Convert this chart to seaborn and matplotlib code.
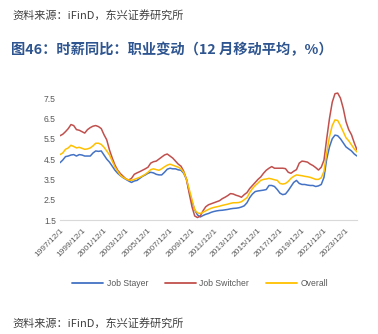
import numpy as np
import pandas as pd
import matplotlib
matplotlib.use("Agg")
import matplotlib.pyplot as plt
import seaborn as sns
from matplotlib.lines import Line2D

# quarterly readings, 1997/12 .. 2024/12
dates = pd.date_range("1997-12-01", "2024-12-01", freq="3MS")

job_stayer = [
    4.32, 4.45, 4.62, 4.65, 4.70, 4.72, 4.65, 4.72, 4.70, 4.65, 4.65, 4.65,
    4.80, 4.90, 4.88, 4.90, 4.70, 4.50, 4.35, 4.15, 3.95, 3.80, 3.68, 3.58,
    3.50, 3.42, 3.35, 3.42, 3.45, 3.55, 3.65, 3.72, 3.80, 3.85, 3.82, 3.75,
    3.72, 3.72, 3.85, 4.00, 4.05, 4.02, 4.02, 3.97, 3.95, 3.80, 3.50, 2.90,
    2.40, 2.00, 1.75, 1.65, 1.72, 1.78, 1.82, 1.88, 1.92, 1.95, 1.97, 1.98,
    2.00, 2.02, 2.05, 2.07, 2.08, 2.10, 2.14, 2.20, 2.35, 2.60, 2.78, 2.90,
    2.93, 2.95, 2.97, 3.00, 3.20, 3.20, 3.15, 3.00, 2.82, 2.75, 2.78, 2.95,
    3.15, 3.35, 3.45, 3.30, 3.25, 3.25, 3.22, 3.20, 3.20, 3.15, 3.18, 3.25,
    3.60, 4.50, 5.10, 5.50, 5.68, 5.65, 5.50, 5.30, 5.10, 5.00, 4.90, 4.75,
    4.65,
]

job_switcher = [
    5.65, 5.72, 5.85, 6.00, 6.20, 6.15, 5.95, 5.92, 5.85, 5.78, 5.95, 6.05,
    6.12, 6.15, 6.10, 6.00, 5.70, 5.45, 4.95, 4.55, 4.20, 3.95, 3.78, 3.65,
    3.52, 3.47, 3.55, 3.75, 3.82, 3.88, 3.95, 4.02, 4.10, 4.30, 4.37, 4.40,
    4.50, 4.60, 4.70, 4.75, 4.65, 4.55, 4.40, 4.25, 4.15, 3.90, 3.50, 2.80,
    2.15, 1.70, 1.62, 1.70, 1.95, 2.15, 2.25, 2.30, 2.35, 2.40, 2.45, 2.55,
    2.62, 2.70, 2.80, 2.78, 2.72, 2.68, 2.62, 2.75, 2.85, 3.05, 3.20, 3.35,
    3.50, 3.62, 3.80, 3.95, 4.05, 4.13, 4.05, 4.05, 4.05, 4.05, 4.03, 3.85,
    3.80, 3.90, 3.98, 4.30, 4.40, 4.38, 4.35, 4.25, 4.18, 4.08, 3.96, 4.10,
    4.45, 5.50, 6.50, 7.30, 7.72, 7.75, 7.50, 7.00, 6.35, 5.95, 5.70, 5.30,
    4.95,
]

overall = [
    4.72, 4.80, 4.98, 5.05, 5.18, 5.12, 5.05, 5.08, 5.03, 4.98, 5.00, 5.05,
    5.15, 5.28, 5.28, 5.22, 5.08, 4.90, 4.70, 4.40, 4.10, 3.90, 3.70, 3.60,
    3.52, 3.47, 3.45, 3.50, 3.55, 3.60, 3.67, 3.75, 3.85, 3.98, 4.02, 3.98,
    3.95, 4.02, 4.12, 4.20, 4.25, 4.20, 4.15, 4.10, 4.02, 3.85, 3.50, 3.00,
    2.50, 2.00, 1.85, 1.82, 1.88, 1.95, 2.02, 2.08, 2.12, 2.15, 2.18, 2.22,
    2.25, 2.28, 2.32, 2.35, 2.35, 2.36, 2.40, 2.50, 2.60, 2.85, 3.05, 3.20,
    3.32, 3.45, 3.50, 3.52, 3.55, 3.52, 3.48, 3.45, 3.30, 3.27, 3.30, 3.40,
    3.55, 3.65, 3.72, 3.70, 3.68, 3.65, 3.63, 3.60, 3.55, 3.50, 3.50, 3.58,
    3.90, 4.80, 5.60, 6.15, 6.43, 6.40, 6.15, 5.85, 5.55, 5.40, 5.20, 5.00,
    4.85,
]

series_names = ["Job Stayer", "Job Switcher", "Overall"]
series_colors = ["#4472C4", "#C0504D", "#FFC000"]
x_tick_labels = [f"{y}/12/1" for y in range(1997, 2024, 2)]
y_ticks = [1.5, 2.5, 3.5, 4.5, 5.5, 6.5, 7.5]

source_text = "资料来源：iFinD，东兴证券研究所"
title_text = "图46：时薪同比：职业变动（12 月移动平均，%）"

df = pd.concat([
    pd.DataFrame({"date": dates, "value": vals, "series": name})
    for name, vals in zip(series_names, [job_stayer, job_switcher, overall])
], ignore_index=True)

sns.set_theme(style="white")
plt.rcParams["font.family"] = ["Noto Sans CJK SC", "DejaVu Sans"]

fig = plt.figure(figsize=(3.78, 3.34), dpi=100)
ax = fig.add_axes([60 / 378, 1 - 220 / 334, 297 / 378, 132 / 334])

sns.lineplot(data=df, x="date", y="value", hue="series",
             palette=dict(zip(series_names, series_colors)),
             linewidth=1.1, ax=ax, legend=False)

ax.set_xlim(dates[0], dates[-1])
ax.set_ylim(1.5, 8.0)
ax.set_yticks(y_ticks)
ax.set_yticklabels([f"{v:.1f}" for v in y_ticks], fontsize=6.2,
                   color="#595959", family="Liberation Sans")
tick_dates = pd.to_datetime([f"{y}-12-01" for y in range(1997, 2024, 2)])
ax.set_xticks(tick_dates)
ax.set_xticklabels(x_tick_labels, rotation=45, ha="right",
                   rotation_mode="anchor", fontsize=6, color="#595959",
                   family="Liberation Sans")
ax.tick_params(axis="both", length=0, pad=3)
ax.tick_params(axis="x", pad=5)
ax.set_xlabel("")
ax.set_ylabel("")
for s in ["top", "right", "left"]:
    ax.spines[s].set_visible(False)
ax.spines["bottom"].set_color("#D9D9D9")
ax.spines["bottom"].set_linewidth(0.8)
ax.grid(False)

handles = [Line2D([0], [0], color=c, lw=1.3) for c in series_colors]
fig.legend(handles, series_names, loc="center",
           bbox_to_anchor=(200 / 378, 1 - 284 / 334), ncol=3, frameon=False,
           prop={"family": "Liberation Sans", "size": 6.2},
           labelcolor="#595959", handlelength=3.6, columnspacing=1.9,
           handletextpad=0.45)

fig.text(12 / 378, 1 - 15 / 334, source_text, fontsize=8, color="#404040",
         style="italic", va="center", ha="left")
fig.text(11 / 378, 1 - 50 / 334, title_text, fontsize=10.3, color="#2E5590",
         fontweight="bold", va="center", ha="left")
fig.text(12 / 378, 1 - 323 / 334, source_text, fontsize=8, color="#404040",
         style="italic", va="center", ha="left")

fig.savefig("out.png", dpi=100)
